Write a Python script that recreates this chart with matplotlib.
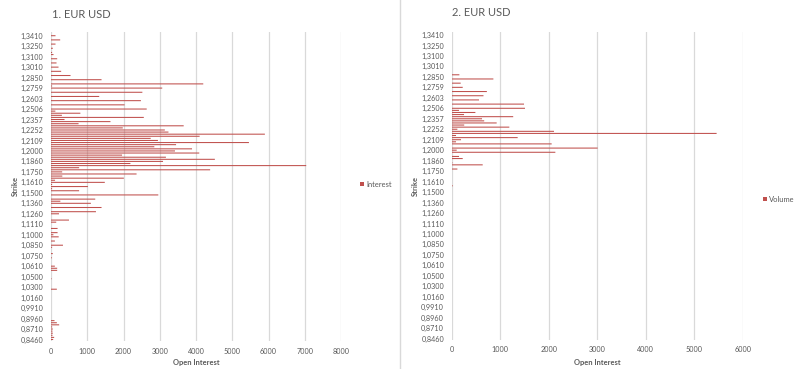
import numpy as np
import matplotlib
matplotlib.use("Agg")
import matplotlib.pyplot as plt
from matplotlib.lines import Line2D

plt.rcParams['font.family'] = ['Lato', 'DejaVu Sans']

# strike labels shown on the axis (every 5th category, top to bottom)
label_strikes = [1.3410, 1.3250, 1.3100, 1.3010, 1.2850, 1.2759, 1.2603, 1.2506,
                 1.2357, 1.2252, 1.2109, 1.2000, 1.1860, 1.1750, 1.1610, 1.1500,
                 1.1360, 1.1260, 1.1110, 1.1000, 1.0850, 1.0750, 1.0610, 1.0500,
                 1.0300, 1.0160, 0.9910, 0.8960, 0.8710, 0.8460]
label_step = 5

# open interest per strike category, top to bottom
interest = [
    124, 0, 253, 0, 124, 0, 50, 0, 30, 69,
    0, 170, 0, 152, 0, 207, 0, 280, 0, 538,
    0, 1394, 0, 4200, 30, 3068, 0, 2520, 0, 1330,
    0, 2480, 0, 2030, 0, 2640, 120, 810, 300, 2560,
    373, 1640, 760, 3660, 1980, 3140, 3240, 5900, 4100, 2750,
    2950, 5460, 3450, 2850, 3890, 3420, 4090, 1960, 3170, 4520,
    3090, 2190, 7040, 775, 4390, 308, 2360, 312, 2010, 112,
    1484, 30, 1018, 30, 775, 0, 2960, 0, 1220, 258,
    1100, 0, 1394, 0, 1240, 220, 0, 0, 496, 144,
    0, 0, 181, 0, 181, 66, 212, 0, 108, 0,
    330, 30, 0, 0, 50, 0, 23, 0, 0, 0,
    106, 170, 170, 0, 0, 0, 14, 0, 0, 0,
    0, 161, 0, 0, 0, 0, 0, 0, 0, 0,
    0, 0, 0, 0, 0, 0, 97, 161, 225, 32,
    50, 41, 50, 41, 87, 60,
]

# volume per strike category, top to bottom
volume = [
    0, 0, 0, 0, 0, 0, 0, 0, 0, 0,
    0, 0, 0, 0, 0, 0, 0, 0, 0, 158,
    0, 859, 0, 185, 0, 227, 0, 725, 0, 655,
    0, 563, 0, 1491, 0, 1511, 151, 488, 254, 1268,
    625, 670, 927, 258, 1188, 117, 2109, 5462, 89, 1360,
    192, 89, 2061, 0, 3009, 103, 2137, 0, 151, 227,
    0, 14, 639, 0, 117, 0, 0, 0, 0, 0,
    0, 0, 21, 0, 0, 0, 0, 0, 0, 0,
    0, 0, 0, 0, 0, 0, 0, 0, 0, 0,
    0, 0, 0, 0, 0, 0, 0, 0, 0, 0,
    0, 0, 0, 0, 0, 0, 0, 0, 0, 0,
    0, 0, 0, 0, 0, 0, 0, 0, 0, 0,
    0, 0, 0, 0, 0, 0, 0, 0, 0, 0,
    0, 0, 0, 0, 0, 0, 0, 0, 0, 0,
    0, 0, 0, 0, 0, 0,
]

BAR_COLOR = '#C0504D'
TEXT_COLOR = '#595959'
GRID_COLOR = '#D9D9D9'

W, H = 800, 369


def fx(px):
    return px / W


def fy(py):
    return 1 - py / H


def draw_panel(fig, rect, values, xmax, title, title_xy, legend_label, legend_xy,
               ylabel_x, xlabel_y, ylim):
    ax = fig.add_axes(rect)
    pos = np.arange(len(values))
    bars = ax.barh(pos, values, height=0.5, color=BAR_COLOR, linewidth=0,
                   label=legend_label)
    for b in bars:
        b.set_snap(False)
    ax.set_ylim(*ylim)
    ax.set_xlim(0, xmax)

    ticks = pos[::label_step]
    ax.set_yticks(ticks)
    ax.set_yticklabels([f"{s:.4f}".replace('.', ',') for s in label_strikes])
    ax.set_xticks(np.arange(0, xmax + 1, 1000))

    ax.tick_params(axis='both', length=0, labelsize=5.2, labelcolor=TEXT_COLOR)
    ax.tick_params(axis='y', pad=5.5)
    ax.tick_params(axis='x', pad=5)
    ax.grid(axis='x', color=GRID_COLOR, linewidth=0.9)
    ax.set_axisbelow(True)
    for sp in ax.spines.values():
        sp.set_visible(False)

    fig.text(fx(title_xy[0]), fy(title_xy[1]), title, fontsize=8.0,
             color=TEXT_COLOR, ha='left', va='center')
    fig.text(fx(ylabel_x), rect[1] + rect[3] / 2, 'Strike', rotation=90,
             fontsize=5.4, fontweight='bold', color=TEXT_COLOR,
             ha='center', va='center')
    fig.text(rect[0] + rect[2] / 2, fy(xlabel_y), 'Open Interest',
             fontsize=5.4, fontweight='bold', color=TEXT_COLOR,
             ha='center', va='center')

    ax.legend(loc='center left', bbox_to_anchor=(fx(legend_xy[0]), fy(legend_xy[1])),
              bbox_transform=fig.transFigure, frameon=False, borderpad=0,
              borderaxespad=0, handlelength=0.55, handleheight=0.55,
              handletextpad=0.3, fontsize=5.4, labelcolor=TEXT_COLOR)
    return ax


fig = plt.figure(figsize=(8, 3.69), dpi=100)

# left chart: open interest
draw_panel(fig, [fx(51), fy(341), fx(290), 309 / H], interest, 8000,
           '1. EUR USD', (52, 15), 'Interest', (360, 184), 15, 363,
           (145.72, -1.77))

# right chart: volume
draw_panel(fig, [fx(451.7), fy(339.5), fx(291), 307.5 / H], volume, 6000,
           '2. EUR USD', (452, 13), 'Volume', (763, 199), 415, 363,
           (145.4, -1.43))

# border between the two charts
fig.add_artist(Line2D([fx(400), fx(400)], [0, 1], color=GRID_COLOR, linewidth=1))

fig.savefig('out.png', dpi=100)
